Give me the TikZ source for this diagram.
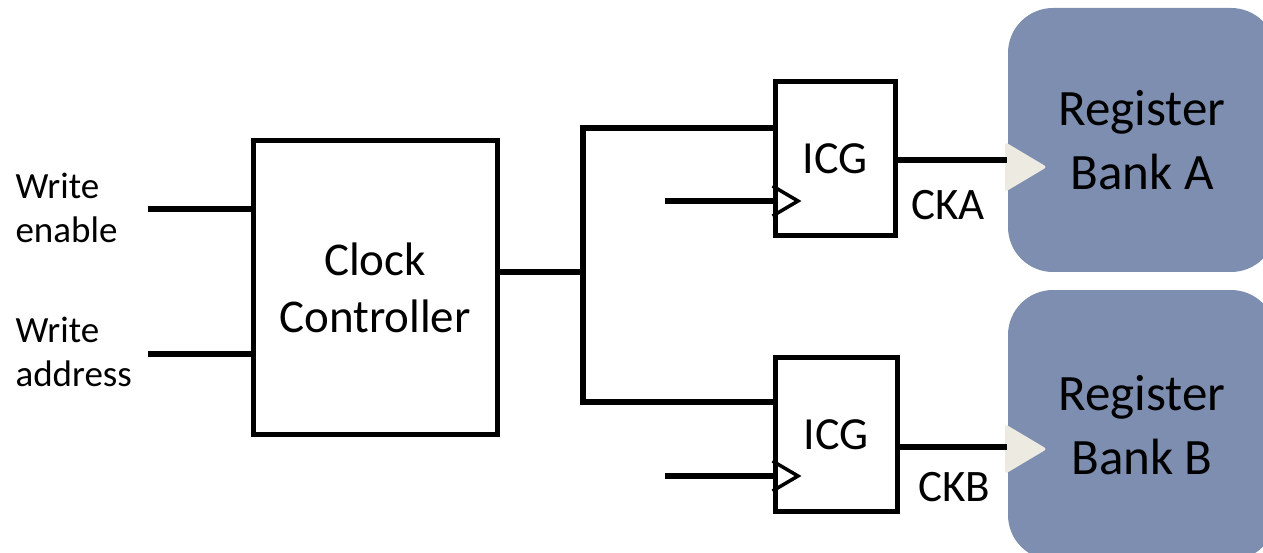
\documentclass[tikz,border=0pt]{standalone}
\usepackage{fontspec}
\setmainfont{Carlito}
\definecolor{bankblue}{RGB}{125,142,176}
\definecolor{cream}{RGB}{237,235,225}
\tikzset{
  wire/.style={line width=5.5pt},
  blockbox/.style={draw, line width=5pt, inner sep=0pt},
  icgbox/.style={draw, line width=5pt, inner sep=0pt, minimum width=120pt, minimum height=154pt,
     font=\fontsize{46}{50}\selectfont},
  bank/.style={fill=bankblue, rounded corners=45pt, minimum width=268pt, align=center,
     font=\fontsize{51}{64}\selectfont},
  clk/.style={line width=3.5pt, line join=miter},
  inarrow/.style={fill=cream, rounded corners=3pt},
  lbl/.style={font=\fontsize{37}{44}\selectfont},
  cklbl/.style={font=\fontsize{45}{50}\selectfont}
}
\begin{document}
\begin{tikzpicture}[x=1pt,y=-1pt]
\useasboundingbox (0,0) rectangle (1263,553);
\clip (0,0) rectangle (1263,553);

% register banks
\node[bank, minimum height=264pt] (bankA) at (1142,140) {Register\\Bank A};
\node[bank, minimum height=270pt] (bankB) at (1142,425) {Register\\Bank B};

% input arrows on banks
\coordinate (arrA) at (1005,167);
\coordinate (arrB) at (1005,449);
\fill[inarrow] (1005,142) -- (1047,167) -- (1005,192) -- cycle;
\fill[inarrow] (1005,424) -- (1047,449) -- (1005,474) -- cycle;

% clock controller
\node[blockbox, minimum width=244pt, minimum height=293pt, align=center,
      font=\fontsize{47}{57}\selectfont] (ctrl) at (375,287.5) {Clock\\Controller};

% ICGs
\node[icgbox] (icgA) at (835,158.5) {ICG};
\node[icgbox, minimum width=122pt] (icgB) at (836,434.5) {ICG};

% inputs
\node[lbl, anchor=west, align=left] (we) at (12,208) {Write\\enable};
\node[lbl, anchor=west, align=left] (wa) at (12,352) {Write\\address};
\coordinate (weS) at (148,209);
\coordinate (waS) at (148,354);
\draw[wire] (weS) -- (weS -| ctrl.west);
\draw[wire] (waS) -- (waS -| ctrl.west);

% bus
\coordinate (j) at (583,272);
\coordinate (bt) at (583,128);
\coordinate (bb) at (583,402);
\draw[wire] (j -| ctrl.east) -- (j);
\draw[wire, line join=miter] (bt -| icgA.west) -- (bt) -- (bb) -- (bb -| icgB.west);

% clock inputs of ICGs
\coordinate (ckA) at (665,201);
\coordinate (ckB) at (665,476);
\draw[wire] (ckA) -- (ckA -| icgA.west);
\draw[wire] (ckB) -- (ckB -| icgB.west);
\draw[clk] (icgA.west |- 0,186) -- (798,201) -- (icgA.west |- 0,216);
\draw[clk] (icgB.west |- 0,461) -- (798,476) -- (icgB.west |- 0,491);

% outputs
\coordinate (oA) at (1007,160);
\coordinate (oB) at (1007,447);
\draw[wire] (oA -| icgA.east) -- (oA);
\draw[wire] (oB -| icgB.east) -- (oB);
\node[cklbl] (cka) at (948,205) {CKA};
\node[cklbl] (ckb) at (954,487) {CKB};
\end{tikzpicture}
\end{document}
